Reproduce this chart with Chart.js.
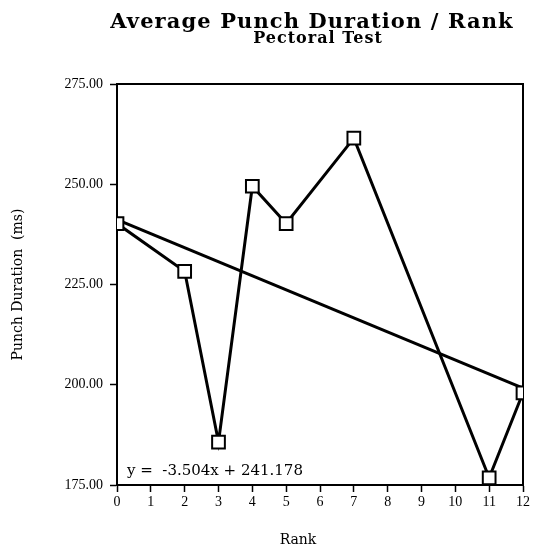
<!DOCTYPE html>
<html>
<head>
<meta charset="utf-8">
<script src="https://cdn.jsdelivr.net/npm/chart.js@4"></script>
<style>
  html, body { margin: 0; padding: 0; background: #fff; }
  #wrap { width: 541px; height: 553px; }
</style>
</head>
<body>
<div id="wrap"><canvas id="chart" width="541" height="553"></canvas></div>
<script>
const titleText = "Average Punch Duration / Rank";
const subtitleText = "Pectoral Test";
const ranks = [0, 2, 3, 4, 5, 7, 11, 12];
const durations = [240.2, 228.3, 185.7, 249.5, 240.2, 261.5, 176.8, 198.0];
const fitSlope = -3.504;
const fitIntercept = 241.178;
const fitLabel = "y =  -3.504x + 241.178";
const xMin = 0, xMax = 12, xStep = 1;
const yMin = 175, yMax = 275, yStep = 25;
const xTitle = "Rank";
const yTitle = "Punch Duration  (ms)";

const serif = "'Liberation Serif', 'Times New Roman', serif";
const wide = "'DejaVu Serif', serif";

// fitted line end points from the printed equation
const fitPoints = [xMin, xMax].map(x => ({ x: x, y: fitIntercept + fitSlope * x }));

// top/right frame, headings, x title and equation text
const decorations = {
  id: "decorations",
  beforeDatasetsDraw(chart) {
    const { ctx, chartArea: a } = chart;
    ctx.save();
    ctx.strokeStyle = "#000";
    ctx.lineWidth = 2;
    ctx.beginPath();
    ctx.moveTo(a.left, a.top);
    ctx.lineTo(a.right, a.top);
    ctx.lineTo(a.right, a.bottom);
    ctx.stroke();
    ctx.restore();
  },
  afterDraw(chart) {
    const { ctx, chartArea: a } = chart;
    const mid = (a.left + a.right) / 2;
    ctx.save();
    ctx.fillStyle = "#000";
    ctx.textAlign = "center";
    ctx.textBaseline = "alphabetic";
    ctx.font = "bold 21px " + wide;
    ctx.letterSpacing = "1.1px";
    ctx.fillText(titleText, mid - 8, 28);
    ctx.font = "bold 16px " + wide;
    ctx.letterSpacing = "1px";
    ctx.fillText(subtitleText, mid - 2, 43);
    ctx.letterSpacing = "0px";
    ctx.font = "14px " + wide;
    ctx.textBaseline = "middle";
    ctx.fillText(xTitle, mid - 22, 540);
    ctx.textAlign = "left";
    ctx.textBaseline = "alphabetic";
    ctx.font = "15px " + wide;
    ctx.fillText(fitLabel, a.left + 10, a.bottom - 10);
    ctx.restore();
  }
};

new Chart(document.getElementById("chart"), {
  type: "line",
  data: {
    datasets: [
      {
        label: "Duration",
        data: ranks.map((r, i) => ({ x: r, y: durations[i] })),
        borderColor: "#000",
        borderWidth: 3,
        pointStyle: "rect",
        pointRadius: 9,
        pointBorderWidth: 2,
        pointBackgroundColor: "#fff",
        pointBorderColor: "#000",
        tension: 0,
        order: 0
      },
      {
        label: "Fit",
        data: fitPoints,
        borderColor: "#000",
        borderWidth: 3,
        pointRadius: 0,
        tension: 0,
        order: 1
      }
    ]
  },
  options: {
    responsive: false,
    animation: false,
    events: [],
    layout: { padding: { top: 84, right: 18, bottom: 0, left: 0 } },
    plugins: {
      legend: { display: false },
      title: { display: false },
      tooltip: { enabled: false }
    },
    scales: {
      x: {
        type: "linear",
        min: xMin,
        max: xMax,
        afterFit(scale) { scale.height = 68; },
        border: { display: true, color: "#000", width: 2 },
        grid: { drawOnChartArea: false, drawTicks: true, tickLength: 7, tickWidth: 1.5, tickColor: "#000" },
        ticks: {
          stepSize: xStep,
          color: "#000",
          padding: 2,
          maxRotation: 0,
          font: { family: serif, size: 14 }
        },
        title: { display: false }
      },
      y: {
        type: "linear",
        min: yMin,
        max: yMax,
        afterFit(scale) { scale.width = 117; },
        border: { display: true, color: "#000", width: 2 },
        grid: { drawOnChartArea: false, drawTicks: true, tickLength: 7, tickWidth: 1.5, tickColor: "#000" },
        ticks: {
          stepSize: yStep,
          color: "#000",
          padding: 7,
          font: { family: serif, size: 14 },
          callback: v => v.toFixed(2)
        },
        title: {
          display: true,
          text: yTitle,
          color: "#000",
          font: { family: wide, size: 14 },
          padding: { top: 10, bottom: 0 }
        }
      }
    }
  },
  plugins: [decorations]
});
</script>
</body>
</html>
